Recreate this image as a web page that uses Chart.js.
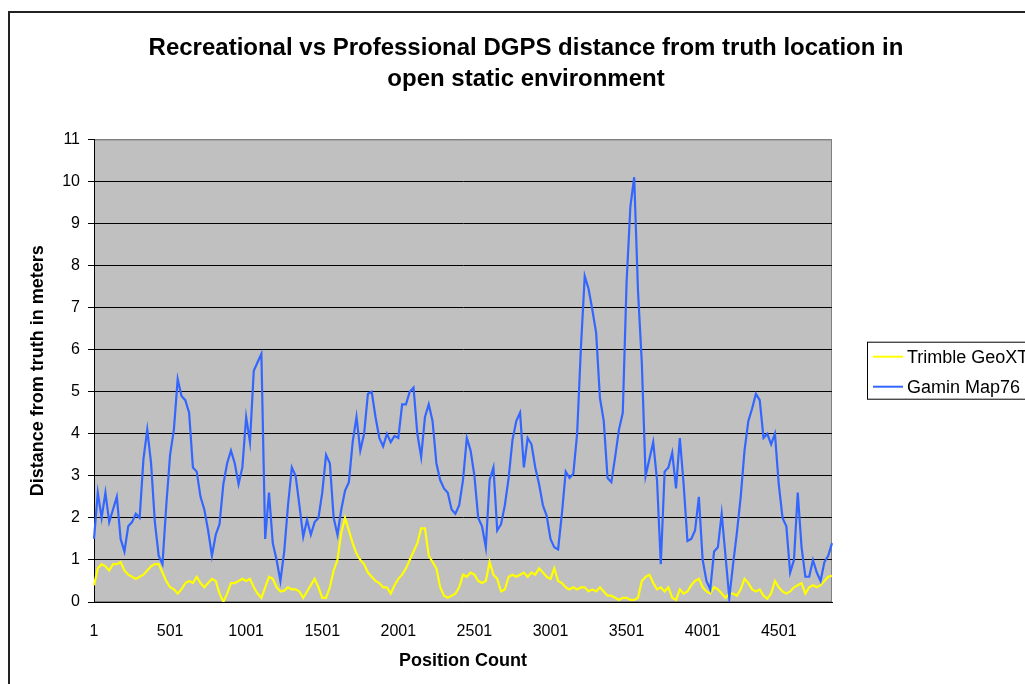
<!DOCTYPE html>
<html>
<head>
<meta charset="utf-8">
<script src="https://cdn.jsdelivr.net/npm/chart.js@4.4.1/dist/chart.umd.min.js"></script>
<style>
  html, body { margin: 0; padding: 0; overflow: hidden; background: #fff; }
  #frame { position: absolute; left: 8px; top: 11px; width: 1100px; height: 800px; border: 2px solid #222; }
  #wrap { position: absolute; left: 0; top: 0; }
</style>
</head>
<body>
<div id="frame"></div>
<div id="wrap"><canvas id="chart" width="1052" height="684"></canvas></div>
<script>
const positionStep = 25;
const tickLabels = ['1', '501', '1001', '1501', '2001', '2501', '3001', '3501', '4001', '4501'];
const seriesNames = ['Trimble GeoXT', 'Gamin Map76'];

const trimble = [
  0.4, 0.8, 0.9, 0.85, 0.75, 0.9, 0.9, 0.95, 0.75, 0.65,
  0.6, 0.55, 0.6, 0.65, 0.75, 0.85, 0.9, 0.9, 0.7, 0.5,
  0.35, 0.3, 0.2, 0.3, 0.45, 0.5, 0.45, 0.6, 0.45, 0.35,
  0.45, 0.55, 0.5, 0.2, 0.0, 0.2, 0.45, 0.45, 0.5, 0.55,
  0.5, 0.55, 0.35, 0.2, 0.1, 0.35, 0.6, 0.55, 0.35, 0.25,
  0.27, 0.35, 0.3, 0.3, 0.25, 0.1, 0.25, 0.4, 0.55, 0.35,
  0.1, 0.1, 0.35, 0.75, 1.0, 1.65, 2.0, 1.7, 1.4, 1.15,
  1.0, 0.9, 0.7, 0.6, 0.5, 0.45, 0.35, 0.35, 0.2, 0.4,
  0.55, 0.65, 0.8, 1.0, 1.2, 1.4, 1.75, 1.75, 1.1, 0.95,
  0.8, 0.35, 0.15, 0.1, 0.15, 0.2, 0.35, 0.65, 0.6, 0.7,
  0.65, 0.5, 0.45, 0.5, 0.95, 0.65, 0.55, 0.25, 0.3, 0.6,
  0.65, 0.6, 0.65, 0.7, 0.6, 0.7, 0.65, 0.8, 0.7, 0.6,
  0.55, 0.8, 0.5, 0.45, 0.35, 0.3, 0.35, 0.3, 0.35, 0.35,
  0.25, 0.3, 0.25, 0.35, 0.25, 0.15, 0.15, 0.1, 0.05, 0.1,
  0.1, 0.05, 0.05, 0.1, 0.5, 0.6, 0.65, 0.45, 0.3, 0.35,
  0.25, 0.35, 0.1, 0.05, 0.3, 0.2, 0.25, 0.4, 0.5, 0.55,
  0.35, 0.25, 0.2, 0.35, 0.3, 0.2, 0.1, 0.2, 0.2, 0.15,
  0.3, 0.55, 0.45, 0.3, 0.25, 0.3, 0.15, 0.08, 0.2, 0.5,
  0.35, 0.25, 0.2, 0.25, 0.35, 0.4, 0.45, 0.2, 0.35, 0.4,
  0.35, 0.4, 0.5, 0.6, 0.62
];

const garmin = [
  1.5, 2.6, 2.0, 2.6, 1.9, 2.2, 2.5, 1.5, 1.2, 1.8,
  1.9, 2.1, 2.0, 3.4, 4.1, 3.3, 1.9, 1.1, 0.9, 2.3,
  3.5, 4.1, 5.3, 4.9, 4.8, 4.5, 3.2, 3.1, 2.5, 2.2,
  1.7, 1.1, 1.6, 1.85, 2.8, 3.3, 3.6, 3.3, 2.8, 3.2,
  4.4, 3.8, 5.5, 5.7, 5.9, 1.5, 2.6, 1.4, 1.0, 0.5,
  1.2, 2.3, 3.2, 3.0, 2.3, 1.55, 1.95, 1.6, 1.9, 2.0,
  2.6, 3.5, 3.3, 2.0, 1.6, 2.2, 2.65, 2.85, 3.8, 4.4,
  3.6, 4.0, 4.95, 5.0, 4.4, 3.9, 3.7, 4.0, 3.8, 3.95,
  3.9, 4.7, 4.7, 5.0, 5.1, 4.0, 3.45, 4.4, 4.7, 4.3,
  3.3, 2.9, 2.7, 2.6, 2.2, 2.1, 2.3, 2.9, 3.9, 3.6,
  3.0, 2.0, 1.8, 1.3, 2.9, 3.2, 1.7, 1.85, 2.3, 2.95,
  3.85, 4.3, 4.5, 3.2, 3.9, 3.75, 3.2, 2.8, 2.3, 2.05,
  1.5, 1.3, 1.25, 2.1, 3.1, 2.95, 3.05, 4.0, 6.05, 7.75,
  7.45, 6.95, 6.4, 4.85, 4.3, 2.95, 2.85, 3.45, 4.1, 4.5,
  7.6, 9.4, 10.1, 7.4, 5.7, 3.0, 3.4, 3.8, 2.9, 0.9,
  3.1, 3.2, 3.55, 2.7, 3.9, 2.8, 1.45, 1.5, 1.7, 2.5,
  1.0, 0.5, 0.3, 1.2, 1.3, 2.1, 1.1, 0.1, 0.9, 1.65,
  2.5, 3.6, 4.3, 4.6, 4.95, 4.8, 3.9, 4.0, 3.75, 4.0,
  2.8, 2.0, 1.8, 0.7, 1.0, 2.6, 1.3, 0.6, 0.6, 1.0,
  0.7, 0.5, 0.95, 1.1, 1.4
];

const positions = garmin.map((v, i) => String(1 + i * positionStep));
const font = "'Liberation Sans', Arial, sans-serif";

// gray plot background + gray frame on top/right
const plotBack = {
  id: 'plotBack',
  beforeDraw(chart) {
    const a = chart.chartArea, c = chart.ctx;
    c.save();
    c.fillStyle = '#c0c0c0';
    c.fillRect(a.left, a.top, a.right - a.left, a.bottom - a.top);
    c.strokeStyle = '#808080';
    c.lineWidth = 1;
    c.strokeRect(a.left + 0.5, a.top + 0.5, a.right - a.left - 1, a.bottom - a.top - 1);
    c.restore();
  }
};

// boxed legend like the excel one
const boxLegend = {
  id: 'boxLegend',
  afterDraw(chart) {
    const a = chart.chartArea, c = chart.ctx;
    const left = a.right + 35;
    const mid = (a.top + a.bottom) / 2;
    const top = mid - 29;
    c.save();
    c.font = '18px ' + font;
    let w = 0;
    chart.data.datasets.forEach(d => { w = Math.max(w, c.measureText(d.label).width); });
    c.fillStyle = '#fff';
    c.fillRect(left, top, w + 52, 57);
    c.strokeStyle = '#000';
    c.lineWidth = 1;
    c.strokeRect(left + 0.5, top + 0.5, w + 52, 57);
    chart.data.datasets.forEach((d, i) => {
      const y = top + 15 + i * 30;
      c.strokeStyle = d.borderColor;
      c.lineWidth = 2;
      c.beginPath();
      c.moveTo(left + 6, y);
      c.lineTo(left + 36, y);
      c.stroke();
      c.fillStyle = '#000';
      c.textBaseline = 'middle';
      c.fillText(d.label, left + 40, y + 1);
    });
    c.restore();
  }
};

new Chart(document.getElementById('chart'), {
  type: 'line',
  data: {
    labels: positions,
    datasets: [
      { label: seriesNames[0], data: trimble, borderColor: 'rgb(255,255,0)', borderWidth: 2.2, pointRadius: 0, order: 2 },
      { label: seriesNames[1], data: garmin, borderColor: 'rgb(51,102,255)', borderWidth: 2.2, pointRadius: 0, order: 1 }
    ]
  },
  options: {
    responsive: false,
    animation: false,
    layout: { padding: 0 },
    plugins: {
      legend: { display: false },
      tooltip: { enabled: false },
      title: {
        display: true,
        text: ['Recreational vs Professional DGPS distance from truth location in', 'open static environment'],
        color: '#000',
        font: { family: font, size: 24, weight: 'bold', lineHeight: 1.3 },
        padding: { top: 33, bottom: 44 }
      }
    },
    scales: {
      x: {
        grid: { display: false, drawTicks: false },
        border: { color: '#000', width: 1 },
        ticks: {
          autoSkip: false, maxRotation: 0, padding: 20, color: '#000',
          font: { family: font, size: 16 },
          callback: (v, i) => (i % 20 === 0 ? tickLabels[i / 20] : null)
        },
        title: { display: true, text: 'Position Count', color: '#000', font: { family: font, size: 18, weight: 'bold' }, padding: { bottom: 12 } },
        afterFit: s => { s.height = 82; }
      },
      y: {
        min: 0, max: 11,
        ticks: { stepSize: 1, padding: 8, color: '#000', font: { family: font, size: 16 } },
        grid: { color: c => (c.tick.value === 11 ? '#808080' : '#000'), tickColor: '#000', tickLength: 6, lineWidth: 1 },
        border: { color: '#000', width: 1 },
        title: { display: true, text: 'Distance from truth in meters', color: '#000', font: { family: font, size: 18, weight: 'bold' }, padding: { top: 27 } },
        afterFit: s => { s.width = 94; }
      },
      yr: {
        axis: 'y', position: 'right', display: true,
        grid: { display: false, drawTicks: false },
        border: { display: false },
        ticks: { display: false },
        afterFit: s => { s.width = 220; }
      }
    }
  },
  plugins: [plotBack, boxLegend]
});
</script>
</body>
</html>
